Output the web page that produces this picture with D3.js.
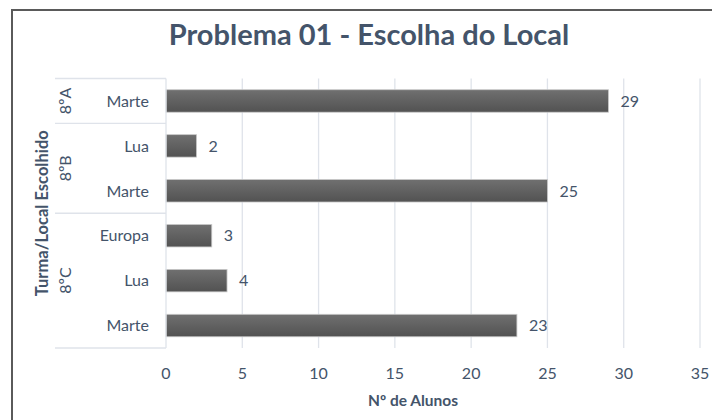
<!DOCTYPE html>
<html>
<head>
<meta charset="utf-8">
<script src="https://cdn.jsdelivr.net/npm/d3@7"></script>
<style>
  body { margin: 0; background: #fff; }
  text { font-family: Lato, "Open Sans", sans-serif; fill: #44546a; }
</style>
</head>
<body>
<div id="chart"></div>
<script>
// data, top to bottom as drawn
const groups = ["8ºA", "8ºB", "8ºB", "8ºC", "8ºC", "8ºC"];
const places = ["Marte", "Lua", "Marte", "Europa", "Lua", "Marte"];
const values = [29, 2, 25, 3, 4, 23];
const xTicks = [0, 5, 10, 15, 20, 25, 30, 35];

const width = 712;
const height = 420;
const margin = { top: 78.5, right: 12, bottom: 72, left: 166 };
const labelSize = "16px";

const svg = d3
  .select("#chart")
  .append("svg")
  .attr("width", width)
  .attr("height", height);

// bar gradient
const grad = svg.append("defs").append("linearGradient")
  .attr("id", "barGrad")
  .attr("x1", 0).attr("y1", 0).attr("x2", 0).attr("y2", 1);
grad.append("stop").attr("offset", "0%").attr("stop-color", "#707070");
grad.append("stop").attr("offset", "100%").attr("stop-color", "#525252");

// chart frame (only top/left visible in crop)
svg.append("path")
  .attr("d", `M12,${height} L12,10 L${width},10`)
  .attr("fill", "none")
  .attr("stroke", "#5a5a5a")
  .attr("stroke-width", 2);

const x = d3.scaleLinear().domain([0, 35]).range([margin.left, 700]);
const rows = d3.range(values.length);
const y = d3.scaleBand()
  .domain(rows)
  .range([margin.top, height - margin.bottom])
  .paddingInner(0.5)
  .paddingOuter(0.25);

// gridlines
svg.append("g")
  .selectAll("line")
  .data(xTicks.slice(1))
  .join("line")
  .attr("x1", d => x(d)).attr("x2", d => x(d))
  .attr("y1", margin.top).attr("y2", height - margin.bottom)
  .attr("stroke", "#dfe3ea")
  .attr("stroke-width", 1.3);

// x tick labels
svg.append("g")
  .selectAll("text")
  .data(xTicks)
  .join("text")
  .attr("x", d => x(d))
  .attr("y", 379)
  .attr("text-anchor", "middle")
  .style("font-size", labelSize)
  .text(d => d);

// bars
svg.append("g")
  .selectAll("rect")
  .data(rows)
  .join("rect")
  .attr("x", x(0))
  .attr("y", i => y(i))
  .attr("width", i => x(values[i]) - x(0))
  .attr("height", y.bandwidth())
  .attr("fill", "url(#barGrad)")
  .attr("stroke", "#c8c8c8")
  .attr("stroke-width", 0.8);

// value labels
svg.append("g")
  .selectAll("text")
  .data(rows)
  .join("text")
  .attr("x", i => x(values[i]) + 12)
  .attr("y", i => y(i) + y.bandwidth() / 2)
  .attr("dy", "0.36em")
  .style("font-size", labelSize)
  .text(i => values[i]);

// category axis
const step = y.step();
const rowTop = i => y(i) - (step - y.bandwidth()) / 2;
const axisG = svg.append("g");
axisG.append("line")
  .attr("x1", margin.left).attr("x2", margin.left)
  .attr("y1", margin.top).attr("y2", height - margin.bottom)
  .attr("stroke", "#dfe3ea").attr("stroke-width", 1.3);

// group boundaries
const groupNames = Array.from(new Set(groups));
const groupSpans = groupNames.map(g => {
  const idx = rows.filter(i => groups[i] === g);
  return { name: g, top: rowTop(idx[0]), bottom: rowTop(idx[idx.length - 1]) + step };
});
const bounds = [groupSpans[0].top].concat(groupSpans.map(s => s.bottom));
axisG.selectAll(".sep")
  .data(bounds)
  .join("line")
  .attr("x1", 55).attr("x2", margin.left)
  .attr("y1", d => d).attr("y2", d => d)
  .attr("stroke", "#dfe3ea").attr("stroke-width", 1.3);

axisG.selectAll(".place")
  .data(rows)
  .join("text")
  .attr("x", 149)
  .attr("y", i => y(i) + y.bandwidth() / 2)
  .attr("dy", "0.36em")
  .attr("text-anchor", "end")
  .style("font-size", labelSize)
  .text(i => places[i]);

axisG.selectAll(".grp")
  .data(groupSpans)
  .join("text")
  .attr("transform", d => `translate(65,${(d.top + d.bottom) / 2}) rotate(-90)`)
  .attr("dy", "0.36em")
  .attr("text-anchor", "middle")
  .style("font-size", labelSize)
  .text(d => d.name);

// axis titles
svg.append("text")
  .attr("transform", `translate(42,${(margin.top + height - margin.bottom) / 2}) rotate(-90)`)
  .attr("dy", "0.36em")
  .attr("text-anchor", "middle")
  .style("font-size", "16.5px")
  .style("font-weight", "bold")
  .text("Turma/Local Escolhido");

svg.append("text")
  .attr("x", 413)
  .attr("y", 406)
  .attr("text-anchor", "middle")
  .style("font-size", "15.5px")
  .style("font-weight", "bold")
  .text("Nº de Alunos");

// title
svg.append("text")
  .attr("x", 369)
  .attr("y", 45)
  .attr("text-anchor", "middle")
  .style("font-size", "29px")
  .style("font-weight", "bold")
  .text("Problema 01 - Escolha do Local");
</script>
</body>
</html>
